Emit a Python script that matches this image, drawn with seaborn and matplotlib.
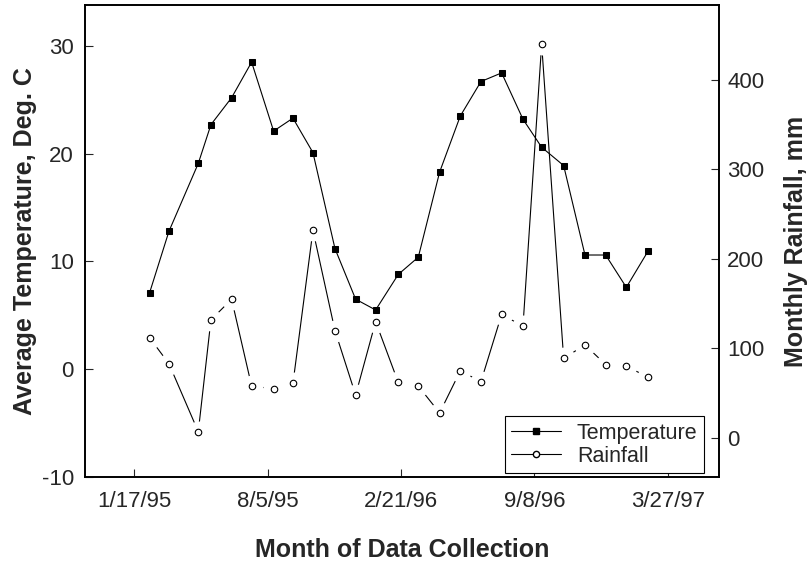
import matplotlib
matplotlib.use("Agg")
import matplotlib.pyplot as plt
import seaborn as sns
import pandas as pd
from matplotlib.lines import Line2D

# ---- data ----
dates = ["1995-02-09", "1995-03-10", "1995-04-23", "1995-05-12", "1995-06-12",
         "1995-07-12", "1995-08-14", "1995-09-12", "1995-10-12", "1995-11-14",
         "1995-12-15", "1996-01-14", "1996-02-17", "1996-03-18", "1996-04-19",
         "1996-05-20", "1996-06-20", "1996-07-21", "1996-08-22", "1996-09-19",
         "1996-10-22", "1996-11-23", "1996-12-24", "1997-01-24", "1997-02-26"]
temperature = [7.1, 12.8, 19.1, 22.7, 25.2, 28.5, 22.1, 23.3, 20.1, 11.2,
               6.5, 5.5, 8.8, 10.4, 18.3, 23.5, 26.7, 27.5, 23.2, 20.6,
               18.9, 10.6, 10.6, 7.6, 11.0]
rainfall = [112, 83, 7, 132, 155, 58, 55, 61, 232, 120,
            48, 130, 62, 58, 28, 75, 63, 138, 125, 440,
            89, 104, 82, 80, 68]
tick_dates = ["1995-01-17", "1995-08-05", "1996-02-21", "1996-09-08", "1997-03-27"]
tick_labels = ["1/17/95", "8/5/95", "2/21/96", "9/8/96", "3/27/97"]
temp_ticks = [-10, 0, 10, 20, 30]
rain_ticks = [0, 100, 200, 300, 400]

df = pd.DataFrame({"date": pd.to_datetime(dates), "temp": temperature, "rain": rainfall})

sns.set_style("white")
plt.rcParams["font.family"] = ["Liberation Sans", "DejaVu Sans"]

fig = plt.figure(figsize=(8.11, 5.66), dpi=100)
ax = fig.add_axes([85 / 811, 1 - 477 / 566, (719 - 85) / 811, (477 - 5) / 566])
ax2 = ax.twinx()
ax.set_zorder(ax2.get_zorder() + 1)
ax.patch.set_visible(False)

# rainfall: line with gaps around the open circles
sns.lineplot(data=df, x="date", y="rain", ax=ax2, color="black", linewidth=0.8, zorder=1)
sns.scatterplot(data=df, x="date", y="rain", ax=ax2, color="white", s=250,
                linewidth=0, zorder=2)
sns.scatterplot(data=df, x="date", y="rain", ax=ax2, marker="o", s=22,
                facecolor="white", edgecolor="black", linewidth=0.8, zorder=3)

# temperature
sns.lineplot(data=df, x="date", y="temp", ax=ax, color="black", linewidth=0.8,
             marker="s", markersize=5, markerfacecolor="black",
             markeredgecolor="black", zorder=4)

base = pd.Timestamp("1995-01-17")
ax.set_xlim(base - pd.Timedelta(days=73.9), base + pd.Timedelta(days=877))
ax.set_ylim(-10, 33.8)
ax2.set_ylim(-43.6, 483.8)

ax.set_xticks(pd.to_datetime(tick_dates))
ax.set_xticklabels(tick_labels)
ax.set_yticks(temp_ticks)
ax.set_yticklabels([str(t) for t in temp_ticks])
ax2.set_yticks(rain_ticks)
ax2.set_yticklabels([str(t) for t in rain_ticks])

ax.tick_params(axis="x", direction="in", length=6, width=0.8, labelsize=16, pad=10,
               bottom=True)
ax.tick_params(axis="y", direction="in", length=6, width=0.8, labelsize=16, pad=8,
               left=True)
ax2.tick_params(axis="y", direction="in", length=6, width=0.8, labelsize=16, pad=6,
                right=True)

for a in (ax, ax2):
    for sp in a.spines.values():
        sp.set_visible(True)
        sp.set_color("black")
        sp.set_linewidth(1.2)

ax.set_xlabel("Month of Data Collection", fontsize=18, fontweight="bold", labelpad=19)
ax.set_ylabel("Average Temperature, Deg. C", fontsize=18, fontweight="bold", labelpad=3)
ax2.set_ylabel("Monthly Rainfall, mm", fontsize=18, fontweight="bold", labelpad=14)

handles = [
    Line2D([], [], color="black", linewidth=0.8, marker="s", markersize=5,
           markerfacecolor="black", markeredgecolor="black"),
    Line2D([], [], color="black", linewidth=0.8, marker="o", markersize=4.5,
           markerfacecolor="white", markeredgecolor="black"),
]
leg = ax.legend(handles, ["Temperature", "Rainfall"], loc="lower right",
                bbox_to_anchor=((704 - 85) / 634, (477 - 473) / 472),
                fontsize=15.5, frameon=True, fancybox=False, framealpha=1,
                edgecolor="black", handlelength=2.3, borderpad=0.3,
                labelspacing=0.08, handletextpad=0.75, borderaxespad=0)
leg.get_frame().set_linewidth(0.8)

fig.savefig("out.png", dpi=100)
